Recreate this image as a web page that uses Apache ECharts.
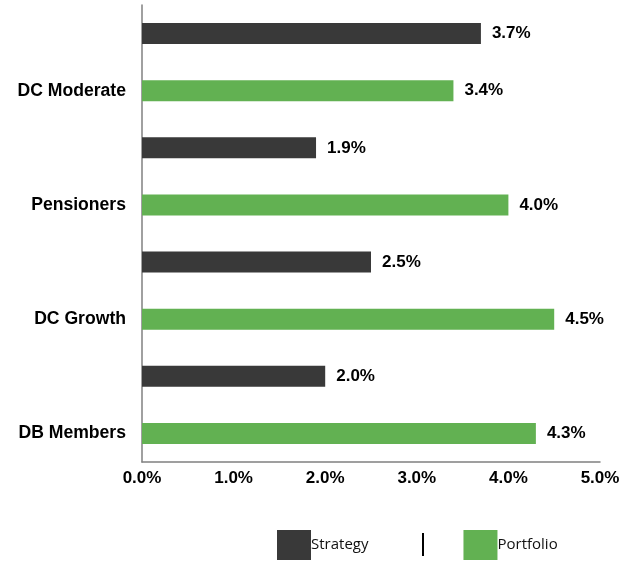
<!DOCTYPE html>
<html>
<head>
<meta charset="utf-8">
<script src="https://cdn.jsdelivr.net/npm/echarts@6/dist/echarts.min.js"></script>
<style>html,body{margin:0;padding:0;background:#fff;}#c{width:626px;height:563px;}</style>
</head>
<body>
<div id="c"></div>
<script>
// bottom to top
const categories = ['DB Members', 'DC Growth', 'Pensioners', 'DC Moderate'];
const strategy = [2.0, 2.5, 1.9, 3.7];
const portfolio = [4.3, 4.5, 4.0, 3.4];
const xTicks = [0, 1, 2, 3, 4, 5];

const slots = [];
const portData = [];
const stratData = [];
categories.forEach((c, i) => {
  slots.push(c);
  portData.push(portfolio[i]);
  stratData.push(null);
  slots.push(c + '__s');
  portData.push(null);
  stratData.push(strategy[i]);
});

const chart = echarts.init(document.getElementById('c'), null, {renderer: 'canvas'});
const bold = {fontFamily: '"Liberation Sans", Arial, sans-serif', fontWeight: 'bold', fontSize: 17, color: '#000'};
chart.setOption({
  animation: false,
  backgroundColor: '#fff',
  grid: {left: 142, right: 26, top: 5, bottom: 101, containLabel: false},
  xAxis: {
    type: 'value', min: xTicks[0], max: xTicks[xTicks.length - 1], interval: 1,
    axisLine: {show: true, lineStyle: {color: '#808080', width: 1.5}},
    axisTick: {show: false},
    splitLine: {show: false},
    axisLabel: Object.assign({}, bold, {margin: 8, formatter: v => v.toFixed(1) + '%'})
  },
  yAxis: {
    type: 'category', data: slots,
    axisLine: {show: true, lineStyle: {color: '#808080', width: 1.5}},
    axisTick: {show: false},
    axisLabel: Object.assign({}, bold, {fontSize: 17.6, margin: 16, interval: 0, formatter: v => v.endsWith('__s') ? '' : v})
  },
  legend: {
    bottom: 3, left: 277, padding: 0,
    itemWidth: 34, itemHeight: 30, itemGap: 95,
    icon: 'rect',
    textStyle: {fontFamily: '"Open Sans", sans-serif', fontSize: 15, color: '#111', padding: [0, 0, 0, -5]},
    data: ['Strategy', 'Portfolio']
  },
  graphic: [{type: 'line', shape: {x1: 423, y1: 533, x2: 423, y2: 556}, style: {stroke: '#000', lineWidth: 2}}],
  series: [
    {
      name: 'Strategy', type: 'bar', data: stratData, barWidth: 21, barGap: '-100%',
      itemStyle: {color: '#393939'},
      label: Object.assign({}, bold, {show: true, position: 'right', distance: 11, formatter: p => p.value.toFixed(1) + '%'})
    },
    {
      name: 'Portfolio', type: 'bar', data: portData, barWidth: 21, barGap: '-100%',
      itemStyle: {color: '#62b152'},
      label: Object.assign({}, bold, {show: true, position: 'right', distance: 11, formatter: p => p.value.toFixed(1) + '%'})
    }
  ]
});
</script>
</body>
</html>
